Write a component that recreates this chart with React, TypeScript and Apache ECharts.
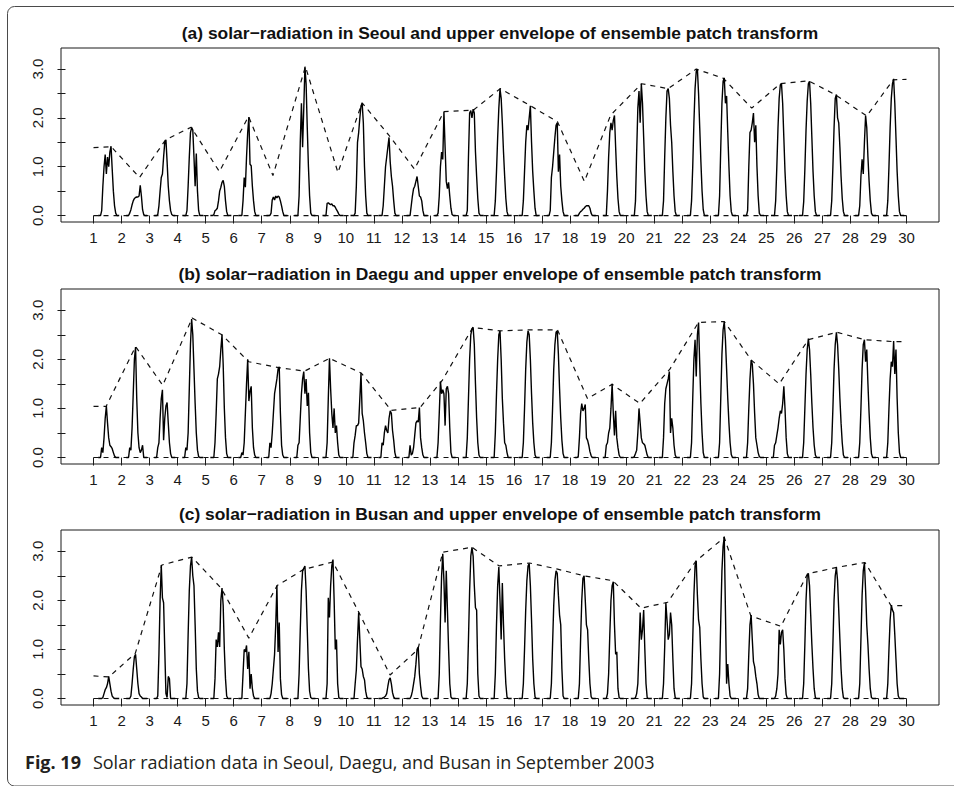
import React, { useEffect, useRef } from "react";
import * as echarts from "echarts";

// ---------- data ----------
// Hourly solar radiation, September 2003. Each row = one day, values for hours 07..19.
const FIRST_HOUR = 7;

const SEOUL_DAYS: number[][] = [
  [0.1, 0.6, 1.0, 1.25, 0.85, 1.2, 1.0, 1.3, 1.42, 0.95, 0.5, 0.2, 0.05],
  [0.05, 0.12, 0.22, 0.3, 0.35, 0.37, 0.38, 0.38, 0.4, 0.62, 0.4, 0.12, 0.02],
  [0.02, 0.2, 0.5, 0.78, 0.85, 1.2, 1.5, 1.55, 1.1, 0.6, 0.3, 0.1, 0.02],
  [0, 0.1, 0.6, 1.2, 1.7, 1.8, 1.75, 1.2, 0.6, 1.27, 0.5, 0.1, 0],
  [0.02, 0.1, 0.12, 0.15, 0.3, 0.5, 0.58, 0.68, 0.72, 0.6, 0.3, 0.08, 0],
  [0, 0.3, 0.78, 0.58, 1.2, 1.7, 2.02, 1.05, 1.02, 0.6, 0.3, 0.08, 0],
  [0, 0.05, 0.32, 0.38, 0.32, 0.4, 0.36, 0.4, 0.38, 0.3, 0.2, 0.08, 0],
  [0, 0.4, 1.5, 2.3, 1.4, 2.2, 3.05, 2.7, 1.8, 1.0, 0.4, 0.05, 0],
  [0, 0.25, 0.26, 0.24, 0.22, 0.24, 0.2, 0.2, 0.17, 0.12, 0.08, 0.03, 0],
  [0, 0.05, 0.6, 1.5, 1.7, 2.0, 2.25, 2.3, 1.9, 1.0, 0.4, 0.05, 0],
  [0, 0.2, 0.6, 1.0, 1.2, 1.4, 1.6, 1.1, 0.8, 0.6, 0.3, 0.05, 0],
  [0, 0.2, 0.4, 0.55, 0.6, 0.7, 0.8, 0.6, 0.4, 0.38, 0.3, 0.1, 0],
  [0.05, 0.4, 1.0, 1.3, 1.15, 2.12, 1.4, 0.7, 0.55, 0.68, 0.4, 0.15, 0.02],
  [0, 0.1, 1.2, 2.1, 2.15, 2.0, 2.18, 2.1, 1.3, 0.8, 0.35, 0.05, 0],
  [0, 0.3, 0.9, 1.6, 2.2, 2.6, 2.4, 1.9, 1.3, 0.8, 0.35, 0.08, 0],
  [0, 0.3, 0.9, 1.5, 1.85, 1.75, 2.0, 2.25, 1.5, 0.9, 0.5, 0.15, 0],
  [0.1, 0.78, 1.0, 1.3, 1.6, 1.85, 1.9, 0.9, 1.25, 0.6, 0.3, 0.08, 0],
  [0, 0.05, 0.08, 0.1, 0.13, 0.15, 0.18, 0.2, 0.2, 0.2, 0.15, 0.05, 0],
  [0, 0.5, 1.2, 1.7, 1.9, 1.75, 1.95, 2.05, 1.4, 0.8, 0.35, 0.08, 0],
  [0, 0.3, 1.3, 2.2, 2.55, 1.9, 2.7, 2.3, 1.6, 0.9, 0.4, 0.08, 0],
  [0, 0.3, 1.2, 2.0, 2.55, 2.6, 2.4, 1.85, 1.5, 0.9, 0.4, 0.08, 0],
  [0, 0.3, 1.0, 1.9, 2.6, 2.95, 3.0, 2.5, 1.8, 1.1, 0.5, 0.12, 0],
  [0, 0.4, 1.4, 2.3, 2.75, 2.82, 2.3, 2.45, 1.7, 1.0, 0.4, 0.08, 0],
  [0, 0.1, 1.0, 1.7, 1.75, 1.9, 2.1, 1.5, 1.85, 1.0, 0.4, 0.05, 0],
  [0, 0.3, 1.0, 1.8, 2.4, 2.68, 2.7, 2.3, 1.6, 0.9, 0.4, 0.08, 0],
  [0, 0.28, 0.95, 1.75, 2.35, 2.7, 2.75, 2.3, 1.6, 0.9, 0.4, 0.08, 0],
  [0, 0.3, 1.0, 1.8, 2.4, 2.48, 2.0, 1.9, 1.4, 0.8, 0.35, 0.08, 0],
  [0, 0.2, 0.8, 1.15, 0.85, 1.5, 2.05, 1.8, 1.2, 0.7, 0.3, 0.05, 0],
  [0, 0.3, 1.0, 1.8, 2.4, 2.7, 2.8, 2.3, 1.6, 0.9, 0.4, 0.08, 0],
];

const DAEGU_DAYS: number[][] = [
  [0.2, 0.1, 0.4, 0.8, 1.05, 0.7, 0.4, 0.25, 0.22, 0.18, 0.1, 0.03, 0],
  [0.2, 0.15, 0.6, 1.3, 2.0, 2.25, 1.2, 0.5, 0.2, 0.1, 0.15, 0.25, 0],
  [0.2, 0.3, 0.8, 1.2, 1.38, 0.35, 0.8, 1.05, 1.12, 0.7, 0.3, 0.08, 0],
  [0.2, 0.15, 0.5, 1.4, 2.3, 2.82, 2.5, 1.8, 1.1, 0.5, 0.15, 0.02, 0],
  [0, 0.3, 0.9, 1.6, 1.7, 1.85, 2.2, 2.5, 1.9, 1.0, 0.4, 0.08, 0],
  [0.1, 0.05, 0.3, 0.9, 1.5, 2.0, 1.15, 1.35, 1.45, 0.6, 0.2, 0.05, 0],
  [0.3, 0.2, 0.5, 0.9, 1.3, 1.45, 1.6, 1.8, 1.85, 0.9, 0.25, 0.05, 0],
  [0.25, 0.3, 0.8, 1.3, 1.6, 1.75, 1.3, 1.6, 1.05, 1.32, 0.5, 0.1, 0],
  [0, 0.3, 1.2, 2.02, 1.4, 0.9, 0.6, 1.0, 0.5, 0.65, 0.3, 0.05, 0],
  [0.3, 0.45, 0.65, 0.65, 0.7, 1.2, 1.72, 0.9, 0.75, 0.5, 0.3, 0.08, 0],
  [0.3, 0.25, 0.5, 0.65, 0.55, 0.5, 0.8, 0.95, 0.9, 0.55, 0.35, 0.1, 0],
  [0.25, 0.05, 0.08, 0.2, 0.45, 0.7, 0.75, 0.72, 1.02, 0.4, 0.2, 0.05, 0],
  [0.3, 0.9, 1.55, 1.3, 1.38, 1.3, 0.65, 1.4, 1.45, 1.3, 0.6, 0.1, 0],
  [0, 0.4, 1.2, 2.0, 2.5, 2.62, 2.65, 2.3, 1.5, 0.8, 0.3, 0.05, 0],
  [0, 0.5, 1.3, 2.0, 2.5, 2.58, 2.0, 1.2, 0.7, 0.3, 0.25, 0.1, 0],
  [0, 0.3, 1.0, 1.8, 2.35, 2.58, 2.5, 2.0, 1.3, 0.7, 0.3, 0.05, 0],
  [0, 0.3, 1.0, 1.8, 2.3, 2.55, 2.58, 2.1, 1.4, 0.8, 0.35, 0.08, 0],
  [0.02, 0.4, 0.9, 1.1, 0.95, 1.0, 1.08, 0.4, 0.35, 0.25, 0.12, 0.04, 0],
  [0.25, 0.3, 0.5, 0.6, 1.0, 1.5, 0.9, 0.45, 0.95, 0.4, 0.2, 0.05, 0],
  [0.02, 0.08, 0.15, 0.5, 1.0, 0.7, 0.4, 0.3, 0.28, 0.25, 0.15, 0.05, 0],
  [0, 0.4, 1.1, 1.4, 1.5, 1.6, 1.75, 0.5, 0.8, 0.6, 0.25, 0.05, 0],
  [0, 0.3, 1.2, 2.0, 2.4, 1.65, 2.5, 2.75, 1.9, 1.1, 0.5, 0.1, 0],
  [0, 0.3, 1.2, 2.1, 2.6, 2.77, 2.4, 1.8, 1.2, 0.7, 0.3, 0.06, 0],
  [0, 0.3, 1.0, 1.6, 1.98, 1.9, 1.5, 0.9, 0.4, 0.25, 0.1, 0.02, 0],
  [0.25, 0.3, 0.45, 0.6, 0.8, 0.95, 0.9, 1.1, 1.45, 1.0, 0.4, 0.08, 0],
  [0, 0.3, 1.0, 1.7, 2.2, 2.42, 2.2, 1.7, 1.1, 0.6, 0.25, 0.05, 0],
  [0, 0.3, 1.0, 1.8, 2.3, 2.55, 2.3, 1.8, 1.2, 0.7, 0.3, 0.05, 0],
  [0, 0.3, 1.0, 1.8, 2.3, 2.4, 1.95, 2.2, 1.5, 0.9, 0.4, 0.08, 0],
  [0, 0.3, 1.0, 1.6, 1.95, 1.85, 2.37, 1.7, 2.2, 1.2, 0.5, 0.1, 0],
];

const BUSAN_DAYS: number[][] = [
  [0, 0.02, 0.1, 0.18, 0.22, 0.3, 0.45, 0.3, 0.15, 0.05, 0.02, 0, 0],
  [0, 0.05, 0.3, 0.6, 0.85, 0.9, 0.6, 0.3, 0.1, 0.05, 0.03, 0, 0],
  [0.05, 0.9, 2.0, 2.72, 2.05, 1.95, 1.0, 0.1, 0.02, 0.45, 0.4, 0, 0],
  [0, 0.3, 1.3, 2.2, 2.7, 2.88, 2.5, 2.3, 1.5, 0.6, 0.15, 0.02, 0],
  [0, 0.4, 1.2, 1.05, 1.35, 1.05, 2.0, 2.25, 1.9, 1.0, 0.4, 0.05, 0],
  [0, 0.5, 1.0, 0.95, 1.08, 0.6, 0.95, 0.2, 0.5, 0.2, 0.05, 0, 0],
  [0, 0.1, 0.3, 0.6, 0.9, 1.5, 2.3, 0.95, 1.55, 0.4, 0.08, 0, 0],
  [0, 0.5, 1.4, 2.2, 2.6, 2.65, 2.7, 2.2, 1.4, 0.6, 0.15, 0.02, 0],
  [0, 0.3, 2.05, 1.65, 2.3, 2.7, 2.83, 2.0, 1.0, 1.2, 0.3, 0.02, 0],
  [0, 0.3, 0.58, 1.2, 1.75, 1.2, 0.65, 0.6, 0.45, 0.38, 0.15, 0.03, 0],
  [0, 0.02, 0.03, 0.05, 0.1, 0.25, 0.38, 0.42, 0.3, 0.12, 0.03, 0, 0],
  [0, 0.05, 0.15, 0.3, 0.45, 0.7, 1.0, 1.05, 0.5, 0.25, 0.05, 0, 0],
  [0, 0.5, 1.6, 2.5, 2.95, 2.4, 1.55, 2.6, 1.8, 1.0, 0.3, 0.03, 0],
  [0, 0.3, 1.2, 2.2, 2.9, 3.08, 2.9, 2.3, 1.85, 1.8, 0.5, 0.05, 0],
  [0, 0.5, 1.5, 2.3, 2.68, 2.0, 1.2, 2.35, 1.5, 0.8, 0.3, 0.03, 0],
  [0, 0.3, 1.0, 1.8, 2.4, 2.7, 2.75, 2.3, 1.6, 0.8, 0.3, 0.03, 0],
  [0, 0.3, 1.1, 1.9, 2.4, 2.6, 2.55, 2.1, 1.7, 1.5, 0.6, 0.05, 0],
  [0, 0.3, 1.2, 2.0, 2.45, 2.5, 2.0, 1.5, 1.4, 0.8, 0.3, 0.04, 0],
  [0, 0.1, 0.5, 1.3, 2.0, 2.3, 2.38, 1.5, 0.9, 0.95, 0.2, 0.02, 0],
  [0, 0.02, 0.1, 0.3, 1.0, 1.75, 1.2, 1.4, 1.8, 1.0, 0.3, 0.02, 0],
  [0, 0.3, 1.05, 1.95, 1.6, 1.2, 1.3, 1.75, 1.5, 0.8, 0.2, 0.02, 0],
  [0, 0.3, 1.2, 2.1, 2.7, 2.8, 2.1, 1.6, 1.45, 0.8, 0.3, 0.03, 0],
  [0, 0.5, 1.6, 2.6, 3.1, 3.3, 1.8, 0.3, 0.7, 0.3, 0.05, 0, 0],
  [0, 0.2, 0.9, 1.5, 1.7, 1.2, 0.75, 0.65, 0.45, 0.3, 0.08, 0, 0],
  [0, 0.05, 0.2, 0.5, 1.4, 1.1, 1.35, 1.4, 1.0, 0.4, 0.08, 0, 0],
  [0, 0.3, 1.1, 2.0, 2.5, 2.55, 2.3, 1.7, 1.1, 0.6, 0.2, 0.02, 0],
  [0, 0.3, 1.1, 2.0, 2.5, 2.67, 2.4, 1.8, 1.2, 0.6, 0.2, 0.02, 0],
  [0, 0.3, 1.2, 2.1, 2.6, 2.77, 2.2, 1.5, 1.1, 0.6, 0.2, 0.02, 0],
  [0, 0.3, 1.0, 1.6, 1.9, 1.8, 1.75, 1.3, 0.8, 0.3, 0.05, 0, 0],
];

// Upper envelope knots (time in days, value)
const SEOUL_ENV_X = [1.0, 1.63, 2.64, 3.57, 4.48, 5.49, 6.53, 7.4, 8.56, 9.72, 10.58, 11.53, 12.45, 13.5, 14.55, 15.51, 16.58, 17.55, 18.51, 19.45, 20.55, 21.5, 22.5, 23.47, 24.48, 25.5, 26.5, 27.45, 28.58, 29.53, 30.0];
const SEOUL_ENV_Y = [1.39, 1.41, 0.78, 1.55, 1.81, 0.9, 2.03, 0.82, 3.05, 0.88, 2.31, 1.65, 0.95, 2.13, 2.16, 2.6, 2.25, 1.92, 0.7, 2.06, 2.7, 2.6, 3.0, 2.81, 2.2, 2.7, 2.76, 2.48, 2.04, 2.78, 2.79];

const DAEGU_ENV_X = [1.0, 1.45, 2.5, 3.47, 4.52, 5.58, 6.54, 7.6, 8.53, 9.42, 10.55, 11.62, 12.65, 13.44, 14.53, 15.5, 16.52, 17.55, 18.62, 19.5, 20.49, 21.56, 22.58, 23.5, 24.47, 25.46, 26.5, 27.52, 28.5, 29.53, 30.0];
const DAEGU_ENV_Y = [1.04, 1.04, 2.26, 1.47, 2.84, 2.5, 1.95, 1.83, 1.76, 2.02, 1.72, 0.96, 1.02, 1.57, 2.65, 2.58, 2.6, 2.6, 1.2, 1.49, 1.1, 1.8, 2.75, 2.77, 1.98, 1.5, 2.4, 2.55, 2.4, 2.36, 2.36];

const BUSAN_ENV_X = [1.0, 1.55, 2.49, 3.44, 4.51, 5.55, 6.54, 7.55, 8.5, 9.54, 10.45, 11.58, 12.57, 13.46, 14.5, 15.47, 16.55, 17.52, 18.49, 19.52, 20.53, 21.48, 22.49, 23.5, 24.45, 25.52, 26.47, 27.51, 28.52, 29.45, 30.0];
const BUSAN_ENV_Y = [0.46, 0.44, 0.92, 2.72, 2.88, 2.25, 1.23, 2.3, 2.63, 2.78, 1.77, 0.48, 1.0, 2.98, 3.08, 2.7, 2.76, 2.64, 2.5, 2.4, 1.84, 1.96, 2.8, 3.28, 1.68, 1.47, 2.54, 2.67, 2.77, 1.89, 1.89];

const X_TICKS = [1, 2, 3, 4, 5, 6, 7, 8, 9, 10, 11, 12, 13, 14, 15, 16, 17, 18, 19, 20, 21, 22, 23, 24, 25, 26, 27, 28, 29, 30];
const Y_TICKS = [0, 0.5, 1.0, 1.5, 2.0, 2.5, 3.0];
const Y_LABELS = [0, 1.0, 2.0, 3.0];

const TITLES = [
  "(a) solar\u2212radiation in Seoul and upper envelope of ensemble patch transform",
  "(b) solar\u2212radiation in Daegu and upper envelope of ensemble patch transform",
  "(c) solar\u2212radiation in Busan and upper envelope of ensemble patch transform",
];
const CAPTION_LABEL = "Fig. 19";
const CAPTION_TEXT = "Solar radiation data in Seoul, Daegu, and Busan in September 2003";

// Night hours without records (line breaks)
const NIGHT_GAP_HOURS = [23, 0, 1, 2, 3];

// ---------- helpers ----------
function hourlySeries(days: number[][]): (number | null)[][] {
  const out: any[] = [];
  days.forEach((vals, d) => {
    for (let h = 0; h < 24; h++) {
      const t = 1 + d + h / 24;
      if (NIGHT_GAP_HOURS.includes(h)) {
        out.push([t, null]);
        continue;
      }
      const idx = h - FIRST_HOUR;
      const v = idx >= 0 && idx < vals.length ? vals[idx] : 0;
      out.push([t, v]);
    }
  });
  return out;
}

function pairs(xs: number[], ys: number[]) {
  return xs.map((x, i) => [x, ys[i]]);
}

const FONT = "'Liberation Sans', Arial, Helvetica, sans-serif";
const CAP_FONT = "'Open Sans', 'Noto Sans', sans-serif";

const GRID_TOPS = [48, 289, 530];
const GRID_H = [174, 175, 175];
const TITLE_Y = [33, 274, 514];

export default function App() {
  const ref = useRef<HTMLDivElement>(null);

  useEffect(() => {
    if (!ref.current) return;
    const chart = echarts.init(ref.current, undefined, { renderer: "svg" });

    const panels = [
      { days: SEOUL_DAYS, ex: SEOUL_ENV_X, ey: SEOUL_ENV_Y },
      { days: DAEGU_DAYS, ex: DAEGU_ENV_X, ey: DAEGU_ENV_Y },
      { days: BUSAN_DAYS, ex: BUSAN_ENV_X, ey: BUSAN_ENV_Y },
    ];

    const grid = panels.map((_, i) => ({
      left: 61,
      top: GRID_TOPS[i],
      width: 878,
      height: GRID_H[i],
      show: true,
      borderColor: "#1a1a1a",
      borderWidth: 1,
      backgroundColor: "transparent",
    }));

    const xAxis = panels.map((_, i) => ({
      type: "value",
      gridIndex: i,
      min: -0.16,
      max: 31.16,
      axisLine: { show: false },
      splitLine: { show: false },
      axisTick: {
        show: true,
        customValues: X_TICKS,
        length: 8,
        lineStyle: { color: "#1a1a1a", width: 1 },
      },
      axisLabel: {
        show: true,
        customValues: X_TICKS,
        margin: 8,
        fontSize: 15,
        color: "#1a1a1a",
        fontFamily: FONT,
        formatter: (v: number) => String(v),
      },
    }));

    const yAxis = panels.map((_, i) => ({
      type: "value",
      gridIndex: i,
      min: -0.132,
      max: 3.432,
      axisLine: { show: false },
      splitLine: { show: false },
      axisTick: {
        show: true,
        customValues: Y_TICKS,
        length: 8,
        lineStyle: { color: "#1a1a1a", width: 1 },
      },
      axisLabel: {
        show: true,
        customValues: Y_LABELS,
        rotate: 90,
        margin: 16,
        fontSize: 15,
        color: "#1a1a1a",
        fontFamily: FONT,
        formatter: (v: number) => v.toFixed(1),
      },
    }));

    const series: any[] = [];
    panels.forEach((p, i) => {
      series.push({
        type: "line",
        xAxisIndex: i,
        yAxisIndex: i,
        data: [[1, 0], [30, 0]],
        showSymbol: false,
        silent: true,
        lineStyle: { color: "#111", width: 1.2, type: [5, 5] },
        z: 1,
      });
      series.push({
        type: "line",
        xAxisIndex: i,
        yAxisIndex: i,
        data: pairs(p.ex, p.ey),
        showSymbol: false,
        silent: true,
        lineStyle: { color: "#111", width: 1.2, type: [5, 5] },
        z: 2,
      });
      series.push({
        type: "line",
        xAxisIndex: i,
        yAxisIndex: i,
        data: hourlySeries(p.days),
        showSymbol: false,
        connectNulls: false,
        silent: true,
        lineStyle: { color: "#000", width: 1.4 },
        z: 3,
      });
    });

    const graphic: any[] = [
      {
        type: "rect",
        shape: { x: 7.5, y: 6.5, width: 1000, height: 779.5, r: 7 },
        style: { fill: "none", stroke: "#4a4a4a", lineWidth: 1 },
        silent: true,
        z: 0,
      },
      ...TITLES.map((t, i) => ({
        type: "text",
        x: 500,
        y: TITLE_Y[i],
        style: {
          text: t,
          fontFamily: FONT,
          fontWeight: "bold",
          fontSize: 17.4,
          fill: "#111",
          textAlign: "center",
          textVerticalAlign: "middle",
        },
        silent: true,
      })),
      {
        type: "text",
        x: 25,
        y: 762,
        style: {
          text: `{b|${CAPTION_LABEL}}{g| }{r|${CAPTION_TEXT}}`,
          textVerticalAlign: "middle",
          rich: {
            b: { fontFamily: CAP_FONT, fontWeight: "bold", fontSize: 18, fill: "#231f20" },
            g: { fontSize: 10, width: 12 },
            r: { fontFamily: CAP_FONT, fontSize: 18, fill: "#231f20" },
          },
        },
        silent: true,
      },
    ];

    chart.setOption({
      animation: false,
      backgroundColor: "#ffffff",
      grid,
      xAxis,
      yAxis,
      series,
      graphic,
    });

    return () => chart.dispose();
  }, []);

  return (
    <div
      ref={ref}
      style={{ position: "absolute", left: 0, top: 0, width: 954, height: 786 }}
    />
  );
}
